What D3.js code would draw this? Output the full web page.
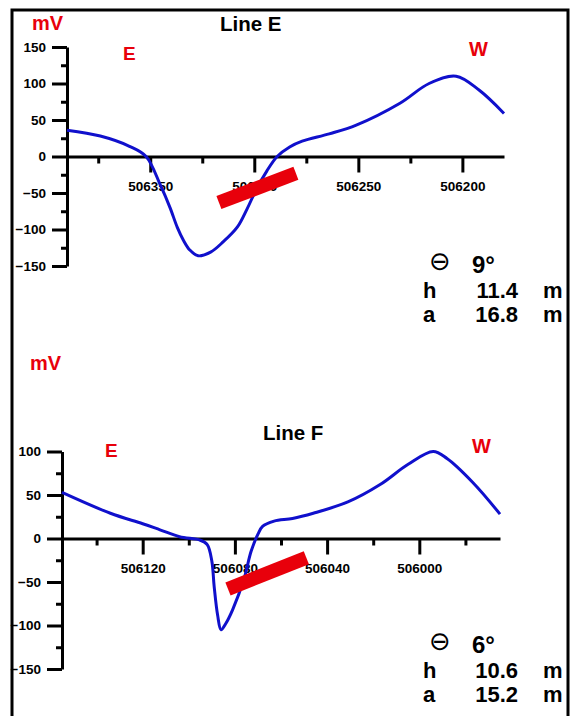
<!DOCTYPE html>
<html>
<head>
<meta charset="utf-8">
<script src="https://cdn.jsdelivr.net/npm/d3@7/dist/d3.min.js"></script>
<style>
  body { margin: 0; background: #fff; }
  svg { display: block; font-family: "Liberation Sans", Arial, sans-serif; font-weight: bold; }
</style>
</head>
<body>
<svg id="chart" width="571" height="716"></svg>
<script>
/* ═══ SP profiles, Line E / Line F ═══ */

// ── Line E ──
const eastingE = [506390, 506374, 506360, 506352, 506345, 506340.5, 506337, 506334, 506331, 506327,
  506321, 506315, 506308, 506303.5, 506299, 506294, 506289, 506283, 506277, 506264,
  506251, 506230, 506216, 506203, 506192, 506180];
const mvE = [36, 28, 14, 0, -40, -70, -97, -115, -128, -136,
  -131, -117, -96, -72, -45, -20, 0, 13, 21, 31,
  43, 73, 100, 110, 91, 59];
const dykeE = [[506317, -63], [506280, -23]];
const majorXE = [506350, 506300, 506250, 506200];
const minorXE = [506375, 506325, 506275, 506225];
const majorYE = [-150, -100, -50, 0, 50, 100, 150];
const minorYE = [-125, -75, -25, 25, 75, 125];
const infoE = { dip: '9°', h: '11.4', a: '16.8' };

// ── Line F ──
const eastingF = [506155, 506134, 506120, 506112.5, 506104, 506095, 506092, 506090, 506089, 506087.5,
  506086, 506084, 506081, 506076, 506073, 506070, 506068, 506063, 506055, 506046,
  506031, 506017, 506005, 505994, 505988, 505977, 505965];
const mvF = [53, 29, 17, 10, 2, -2, -7, -26, -55, -88,
  -105, -98, -82, -46, -15, 5, 14, 20, 23, 29,
  42, 62, 85, 100, 92, 65, 28];
const dykeF = [[506083, -58], [506049, -22]];
const majorXF = [506120, 506080, 506040, 506000];
const minorXF = [506140, 506100, 506060, 506020, 505980];
const majorYF = [-150, -100, -50, 0, 50, 100];
const minorYF = [-125, -75, -25, 25, 75];
const infoF = { dip: '6°', h: '10.6', a: '15.2' };

const svg = d3.select('#chart');
const RED = '#e8000b';
const BLUE = '#1010cc';

// outer frame (bottom edge falls outside the picture)
svg.append('path')
  .attr('d', 'M12,722 L12,10 L568,10 L568,722')
  .attr('fill', 'none').attr('stroke', '#000').attr('stroke-width', 3);

function drawPanel(p) {
  const x = d3.scaleLinear().domain(p.xDomain).range(p.xRange);
  const y = d3.scaleLinear().domain(p.yDomain).range(p.yRange);
  const g = svg.append('g');

  // y axis: minor then major ticks
  g.append('g').attr('transform', `translate(${p.xRange[0]},0)`)
    .call(d3.axisLeft(y).tickValues(p.minorY).tickSize(6).tickSizeOuter(0).tickFormat(''))
    .call(a => a.select('.domain').remove());
  const ya = g.append('g').attr('transform', `translate(${p.xRange[0]},0)`)
    .call(d3.axisLeft(y).tickValues(p.majorY).tickSize(15).tickSizeOuter(0).tickPadding(6));
  ya.selectAll('text').attr('font-size', 13.5).attr('font-family', null).attr('font-weight', 'bold').attr('fill', '#000');

  // x axis along 0 mV
  g.append('g').attr('transform', `translate(0,${y(0)})`)
    .call(d3.axisBottom(x).tickValues(p.minorX).tickSize(7).tickSizeOuter(0).tickFormat(''))
    .call(a => a.select('.domain').remove());
  const xa = g.append('g').attr('transform', `translate(0,${y(0)})`)
    .call(d3.axisBottom(x).tickValues(p.majorX).tickSize(16).tickSizeOuter(0).tickPadding(9).tickFormat(d3.format('d')));
  xa.selectAll('text').attr('font-size', 13.5).attr('font-family', null).attr('font-weight', 'bold').attr('fill', '#000');

  g.selectAll('.domain').attr('stroke-width', 3);
  g.selectAll('.tick line').attr('stroke-width', 3);

  // SP curve
  const pts = p.easting.map((e, i) => [e, p.mv[i]]);
  g.append('path').datum(pts)
    .attr('fill', 'none').attr('stroke', BLUE).attr('stroke-width', 3)
    .attr('d', d3.line().x(d => x(d[0])).y(d => y(d[1])).curve(d3.curveCatmullRom.alpha(0.5)));

  // dyke bar
  g.append('line')
    .attr('x1', x(p.dyke[0][0])).attr('y1', y(p.dyke[0][1]))
    .attr('x2', x(p.dyke[1][0])).attr('y2', y(p.dyke[1][1]))
    .attr('stroke', RED).attr('stroke-width', 14);

  // labels
  const t = (tx, ty, s, size, fill, anchor) => g.append('text')
    .attr('x', tx).attr('y', ty).attr('font-size', size).attr('fill', fill)
    .attr('text-anchor', anchor || 'start').text(s);
  t(p.mvPos[0], p.mvPos[1], 'mV', 20, RED);
  t(p.titlePos[0], p.titlePos[1], p.title, 20.5, '#000');
  t(p.ePos[0], p.ePos[1], 'E', 19, RED);
  t(p.wPos[0], p.wPos[1], 'W', 20, RED);

  const iy = p.infoY;
  t(440, iy - 3, '⊖', 26, '#000', 'middle').attr('font-weight', 'normal').attr('font-family', 'DejaVu Sans');
  t(472, iy, p.info.dip, 24, '#000');
  t(423, iy + 25, 'h', 22, '#000');
  t(518, iy + 25, p.info.h, 22, '#000', 'end');
  t(543, iy + 25, 'm', 22, '#000');
  t(423, iy + 49, 'a', 22, '#000');
  t(518, iy + 49, p.info.a, 22, '#000', 'end');
  t(543, iy + 49, 'm', 22, '#000');
}

drawPanel({
  xDomain: [506390, 506180], xRange: [67, 504],
  yDomain: [-150, 150], yRange: [266, 47],
  majorX: majorXE, minorX: minorXE, majorY: majorYE, minorY: minorYE,
  easting: eastingE, mv: mvE, dyke: dykeE, info: infoE,
  title: 'Line E', titlePos: [220, 31], mvPos: [32, 30], ePos: [123, 60], wPos: [469, 56],
  infoY: 273
});

drawPanel({
  xDomain: [506155, 505965], xRange: [62, 500],
  yDomain: [-150, 100], yRange: [669, 451.5],
  majorX: majorXF, minorX: minorXF, majorY: majorYF, minorY: minorYF,
  easting: eastingF, mv: mvF, dyke: dykeF, info: infoF,
  title: 'Line F', titlePos: [263, 440], mvPos: [30, 370], ePos: [105, 457], wPos: [472, 453],
  infoY: 653
});
</script>
</body>
</html>
